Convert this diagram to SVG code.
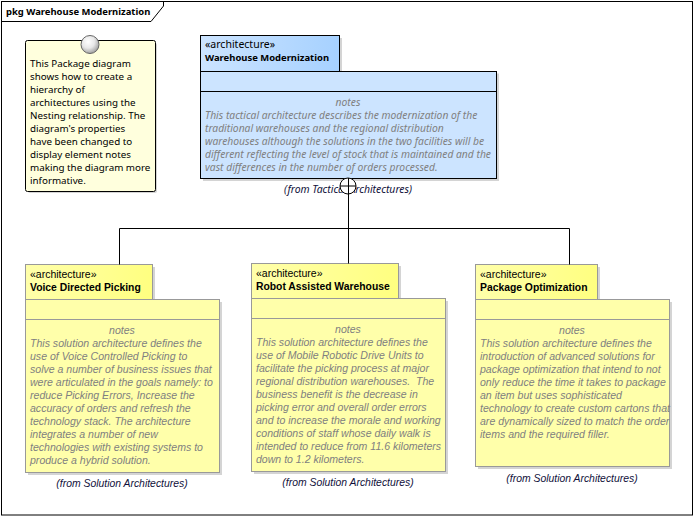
<svg xmlns="http://www.w3.org/2000/svg" width="694" height="516" viewBox="0 0 694 516">
<style>
text{white-space:pre;font-size:10.550px}
.s{font-family:"Noto Sans","Open Sans",sans-serif}
.l{font-family:"Liberation Sans",Arial,sans-serif}
.b{font-weight:bold;fill:#000}
.s.b{font-size:9.450px}
.l.b{font-size:10.350px}
.t{fill:#000}
.s.t{font-size:9.800px}
.st{font-size:10.500px!important}
.l.t{font-size:10.500px}
.n{font-style:italic;fill:#808080}
.s.n{font-size:10.300px}
.f{font-style:italic;fill:#10103a}
.f{font-size:10.400px}
.m{text-anchor:middle}
.sh{fill:#d4d4d4;stroke:none}
.bl{fill:#cce4ff;stroke:#000;stroke-width:1}
.ye{fill:#ffffaa;stroke:#999;stroke-width:1}
.c{fill:none;stroke:#000;stroke-width:1}
</style>
<defs>
<linearGradient id="gb" x1="0" x2="1" y1="0" y2="0"><stop offset="0" stop-color="#cce4ff"/><stop offset="1" stop-color="#a6d1ff"/></linearGradient>
<linearGradient id="gy" x1="0" x2="1" y1="0" y2="0"><stop offset="0" stop-color="#ffffaa"/><stop offset="1" stop-color="#ffff80"/></linearGradient>
<radialGradient id="gc" cx="0.4" cy="0.35" r="0.7"><stop offset="0" stop-color="#fff"/><stop offset="0.5" stop-color="#e8e8e8"/><stop offset="1" stop-color="#999"/></radialGradient>
</defs>
<rect width="694" height="516" fill="#fff"/>
<g id="frame">
<rect x="1.500" y="1.500" width="691" height="513.500" fill="none" stroke="#000"/>
<path d="M1.500 21.500H151L163.500 6V1.500" fill="none" stroke="#000"/>
<text x="6" y="15" class="s b">pkg Warehouse Modernization</text>
</g>
<g id="note">
<rect x="28" y="43" width="129" height="150" rx="2" class="sh"/>
<rect x="25.500" y="40.500" width="130" height="151" rx="2" fill="#ffffdd" stroke="#000"/>
<circle cx="90" cy="44.500" r="9" fill="url(#gc)" stroke="#666"/>
<g>
<text x="30" y="67" class="s t">This Package diagram</text>
<text x="30" y="80" class="s t">shows how to create a</text>
<text x="30" y="93" class="s t">hierarchy of</text>
<text x="30" y="106" class="s t">architectures using the</text>
<text x="30" y="119" class="s t">Nesting relationship. The</text>
<text x="30" y="132" class="s t">diagram's properties</text>
<text x="30" y="145" class="s t">have been changed to</text>
<text x="30" y="158" class="s t">display element notes</text>
<text x="30" y="171" class="s t">making the diagram more</text>
<text x="30" y="184" class="s t">informative.</text>
</g>
</g>
<g id="warehouse-modernization">
<path d="M203 38H342V73.500H499V181H203Z" class="sh"/>
<rect x="200.500" y="35.500" width="139" height="36" fill="url(#gb)" stroke="#000"/>
<rect x="200.500" y="71.500" width="296" height="107" class="bl"/>
<path d="M200.500 91.500H496.500" class="c"/>
<text x="205" y="48" class="s t st">«architecture»</text>
<text x="205" y="61" class="s b">Warehouse Modernization</text>
<text x="348" y="106" class="s n m">notes</text>
<g>
<text x="205" y="119" class="s n">This tactical architecture describes the modernization of the</text>
<text x="205" y="132" class="s n">traditional warehouses and the regional distribution</text>
<text x="205" y="145" class="s n">warehouses although the solutions in the two facilities will be</text>
<text x="205" y="158" class="s n">different reflecting the level of stock that is maintained and the</text>
<text x="205" y="171" class="s n">vast differences in the number of orders processed.</text>
</g>
<text x="348" y="193" class="s f m">(from Tactical Architectures)</text>
</g>
<g id="voice-directed-picking">
<path d="M28 267H155V302H222V475H28Z" class="sh"/>
<rect x="25.500" y="264.500" width="127" height="35" fill="url(#gy)" stroke="#999"/>
<rect x="25.500" y="299.500" width="194" height="173" class="ye"/>
<path d="M25.500 319.500H219.500" fill="none" stroke="#999"/>
<text x="30" y="278" class="l t">«architecture»</text>
<text x="30" y="291" class="l b">Voice Directed Picking</text>
<text x="122" y="334" class="l n m">notes</text>
<g class="l n">
<text x="30" y="347">This solution architecture defines the</text>
<text x="30" y="360">use of Voice Controlled Picking to</text>
<text x="30" y="373">solve a number of business issues that</text>
<text x="30" y="386">were articulated in the goals namely: to</text>
<text x="30" y="399">reduce Picking Errors, Increase the</text>
<text x="30" y="412">accuracy of orders and refresh the</text>
<text x="30" y="425">technology stack. The architecture</text>
<text x="30" y="438">integrates a number of new</text>
<text x="30" y="451">technologies with existing systems to</text>
<text x="30" y="464">produce a hybrid solution.</text>
</g>
<text x="122" y="487" class="l f m">(from Solution Architectures)</text>
</g>
<g id="robot-assisted-warehouse">
<path d="M254 266H401V301H448V474H254Z" class="sh"/>
<rect x="251.500" y="263.500" width="147" height="35" fill="url(#gy)" stroke="#999"/>
<rect x="251.500" y="298.500" width="194" height="173" class="ye"/>
<path d="M251.500 318.500H445.500" fill="none" stroke="#999"/>
<text x="256" y="277" class="l t">«architecture»</text>
<text x="256" y="290" class="l b">Robot Assisted Warehouse</text>
<text x="348" y="333" class="l n m">notes</text>
<g class="l n">
<text x="256" y="346">This solution architecture defines the</text>
<text x="256" y="359">use of Mobile Robotic Drive Units to</text>
<text x="256" y="372">facilitate the picking process at major</text>
<text x="256" y="385">regional distribution warehouses.  The</text>
<text x="256" y="398">business benefit is the decrease in</text>
<text x="256" y="411">picking error and overall order errors</text>
<text x="256" y="424">and to increase the morale and working</text>
<text x="256" y="437">conditions of staff whose daily walk is</text>
<text x="256" y="450">intended to reduce from 11.6 kilometers</text>
<text x="256" y="463">down to 1.2 kilometers.</text>
</g>
<text x="348" y="486" class="l f m">(from Solution Architectures)</text>
</g>
<g id="package-optimization">
<path d="M478 267H600V302H672V469H478Z" class="sh"/>
<rect x="475.500" y="264.500" width="122" height="35" fill="url(#gy)" stroke="#999"/>
<rect x="475.500" y="299.500" width="194" height="167" class="ye"/>
<path d="M475.500 319.500H669.500" fill="none" stroke="#999"/>
<text x="480" y="278" class="l t">«architecture»</text>
<text x="480" y="291" class="l b">Package Optimization</text>
<text x="572" y="334" class="l n m">notes</text>
<g class="l n">
<text x="480" y="347">This solution architecture defines the</text>
<text x="480" y="360">introduction of advanced solutions for</text>
<text x="480" y="373">package optimization that intend to not</text>
<text x="480" y="386">only reduce the time it takes to package</text>
<text x="480" y="399">an item but uses sophisticated</text>
<text x="480" y="412">technology to create custom cartons that</text>
<text x="480" y="425">are dynamically sized to match the order</text>
<text x="480" y="438">items and the required filler.</text>
</g>
<text x="572" y="482" class="l f m">(from Solution Architectures)</text>
</g>
<g id="connectors">
<path d="M348.500 194V263.500M119.500 264.500V228.500H569.500V264.500" class="c"/>
<circle cx="348" cy="186" r="8" fill="#fff" stroke="#000"/>
<path d="M340 186H356M348.500 178V194" class="c"/>
</g>
</svg>
